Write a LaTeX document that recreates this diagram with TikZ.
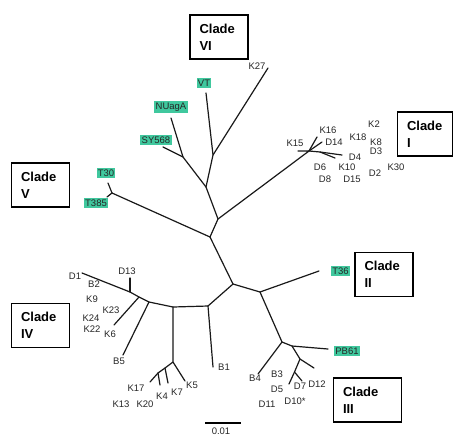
\documentclass[tikz,border=0pt]{standalone}
\usepackage{fontspec}
\setmainfont{Liberation Sans}
\definecolor{hl}{RGB}{64,200,158}
\begin{document}
\begin{tikzpicture}[x=1pt,y=-1pt,
  branch/.style={line width=1.2pt, line cap=round, line join=round, draw=black!90},
  taxon/.style={font=\fontsize{9.5}{10}\selectfont, inner sep=0pt, text=black!85},
  hltaxon/.style={taxon, fill=hl, inner xsep=1.3pt, inner ysep=2pt},
  cladebox/.style={draw, line width=1.3pt, font=\bfseries\fontsize{13}{17}\selectfont,
    align=left, text width=39pt, minimum height=44pt, inner xsep=9.5pt, inner ysep=4pt}]
\useasboundingbox (0,0) rectangle (454,437);

% internal nodes
\coordinate (A) at (210,237);
\coordinate (B) at (218,219);
\coordinate (C) at (206,187);
\coordinate (D) at (183,157);
\coordinate (E) at (213,155);
\coordinate (J1) at (309,151);
\coordinate (J2) at (320,152);
\coordinate (V5) at (112,193);
\coordinate (F) at (233,284);
\coordinate (G) at (208,306);
\coordinate (H) at (260,292);
\coordinate (I) at (173,307);
\coordinate (P) at (149,302);
\coordinate (Q) at (139,297);
\coordinate (R) at (130,292);
\coordinate (S) at (173,362);
\coordinate (K7b) at (165,368);
\coordinate (K4b) at (158,373);
\coordinate (Jt) at (282,342);
\coordinate (Kt) at (292,346);
\coordinate (L) at (300,359);
\coordinate (M) at (294.5,372);

% leaf ends
\coordinate (K27e) at (268,68);
\coordinate (VTe) at (206,93);
\coordinate (NUe) at (171,118);
\coordinate (SYe) at (163,147);
\coordinate (K15e) at (298,151);
\coordinate (K16e) at (317,137);
\coordinate (D14e) at (322,142);
\coordinate (D4e) at (342,155);
\coordinate (D6e) at (335,158);
\coordinate (T30e) at (108,183);
\coordinate (T385e) at (107,197);
\coordinate (D1e) at (82,273);
\coordinate (D13e) at (130,278);
\coordinate (K23e) at (114,325);
\coordinate (B5e) at (123,355);
\coordinate (B1e) at (213,367);
\coordinate (K5e) at (185,381);
\coordinate (K17e) at (150,382);
\coordinate (K7e) at (168,383);
\coordinate (K4e) at (160,385);
\coordinate (T36e) at (319,271);
\coordinate (PBe) at (328,349);
\coordinate (D12e) at (314,368);
\coordinate (D5e) at (289,384);
\coordinate (D7e) at (302,381);
\coordinate (B4e) at (258,374);
\coordinate (sbL) at (205,423);
\coordinate (sbR) at (241,423);

% branches
\draw[branch] (V5) -- (A) -- (B) -- (C) -- (D) -- (SYe);
\draw[branch] (D) -- (NUe);
\draw[branch] (C) -- (E) -- (VTe);
\draw[branch] (E) -- (K27e);
\draw[branch] (B) -- (J1) -- (K15e);
\draw[branch] (J1) -- (K16e);
\draw[branch] (J1) -- (D14e);
\draw[branch] (J1) -- (J2) -- (D4e);
\draw[branch] (J2) -- (D6e);
\draw[branch] (V5) -- (T30e);
\draw[branch] (V5) -- (T385e);
\draw[branch] (A) -- (F) -- (G) -- (I) -- (P) -- (Q) -- (R) -- (D1e);
\draw[branch] (R) -- (D13e);
\draw[branch] (Q) -- (K23e);
\draw[branch] (P) -- (B5e);
\draw[branch] (G) -- (B1e);
\draw[branch] (I) -- (S) -- (K5e);
\draw[branch] (S) -- (K7b) -- (K4b) -- (K17e);
\draw[branch] (K7b) -- (K7e);
\draw[branch] (K4b) -- (K4e);
\draw[branch] (F) -- (H) -- (T36e);
\draw[branch] (H) -- (Jt) -- (Kt) -- (PBe);
\draw[branch] (Jt) -- (B4e);
\draw[branch] (Kt) -- (L) -- (D12e);
\draw[branch] (L) -- (M) -- (D5e);
\draw[branch] (M) -- (D7e);
\draw[line width=1.8pt] (sbL) -- (sbR);
\node[taxon] (sblab) at (221,431) {0.01};

% clade boxes
\node[cladebox] (c6) at (219,37) {Clade\\VI};
\node[cladebox, text width=36pt] (c1) at (425,134) {Clade\\I};
\node[cladebox] (c5) at (40.5,185) {Clade\\V};
\node[cladebox] (c4) at (40.5,325.5) {Clade\\IV};
\node[cladebox] (c2) at (384,274.5) {Clade\\II};
\node[cladebox, text width=49pt] (c3) at (367.5,400) {Clade\\III};

% highlighted taxa
\node[hltaxon] (vt) at (204,83) {VT};
\node[hltaxon] (nuaga) at (171,107) {NUagA};
\node[hltaxon] (sy568) at (156,140) {SY568};
\node[hltaxon] (t30) at (106,173) {T30};
\node[hltaxon] (t385) at (96,203) {T385};
\node[hltaxon] (t36) at (340.5,271) {T36};
\node[hltaxon] (pb61) at (347,351) {PB61};

% other taxa
\node[taxon] (k27) at (257,66) {K27};
\node[taxon] (k15) at (295,143) {K15};
\node[taxon] (k16) at (328,130) {K16};
\node[taxon] (d14) at (334,142) {D14};
\node[taxon] (k18) at (358,137) {K18};
\node[taxon] (k2) at (374,124) {K2};
\node[taxon] (k8) at (376,142) {K8};
\node[taxon] (d3) at (376,151) {D3};
\node[taxon] (d4) at (355,157) {D4};
\node[taxon] (d6) at (320,167) {D6};
\node[taxon] (k10) at (347,167) {K10};
\node[taxon] (d2) at (375,173) {D2};
\node[taxon] (k30) at (396,167) {K30};
\node[taxon] (d8) at (325,179) {D8};
\node[taxon] (d15) at (352,179) {D15};

\node[taxon] (d1) at (75,276) {D1};
\node[taxon] (d13) at (127,271) {D13};
\node[taxon] (b2) at (94,284) {B2};
\node[taxon] (k9) at (92,299) {K9};
\node[taxon] (k23) at (111,310) {K23};
\node[taxon] (k24) at (91,318) {K24};
\node[taxon] (k22) at (92,329) {K22};
\node[taxon] (k6) at (110,334) {K6};
\node[taxon] (b5) at (119,361) {B5};
\node[taxon] (b1) at (224,367) {B1};
\node[taxon] (k17) at (136,388) {K17};
\node[taxon] (k7) at (177,392) {K7};
\node[taxon] (k5) at (192,385) {K5};
\node[taxon] (k4) at (162,396) {K4};
\node[taxon] (k20) at (145,404) {K20};
\node[taxon] (k13) at (121,404) {K13};

\node[taxon] (b4) at (255,378) {B4};
\node[taxon] (b3) at (277,374) {B3};
\node[taxon] (d5) at (277,389) {D5};
\node[taxon] (d7) at (300,386) {D7};
\node[taxon] (d12) at (317,384) {D12};
\node[taxon] (d11) at (267,404) {D11};
\node[taxon] (d10) at (295,401) {D10*};
\end{tikzpicture}
\end{document}
